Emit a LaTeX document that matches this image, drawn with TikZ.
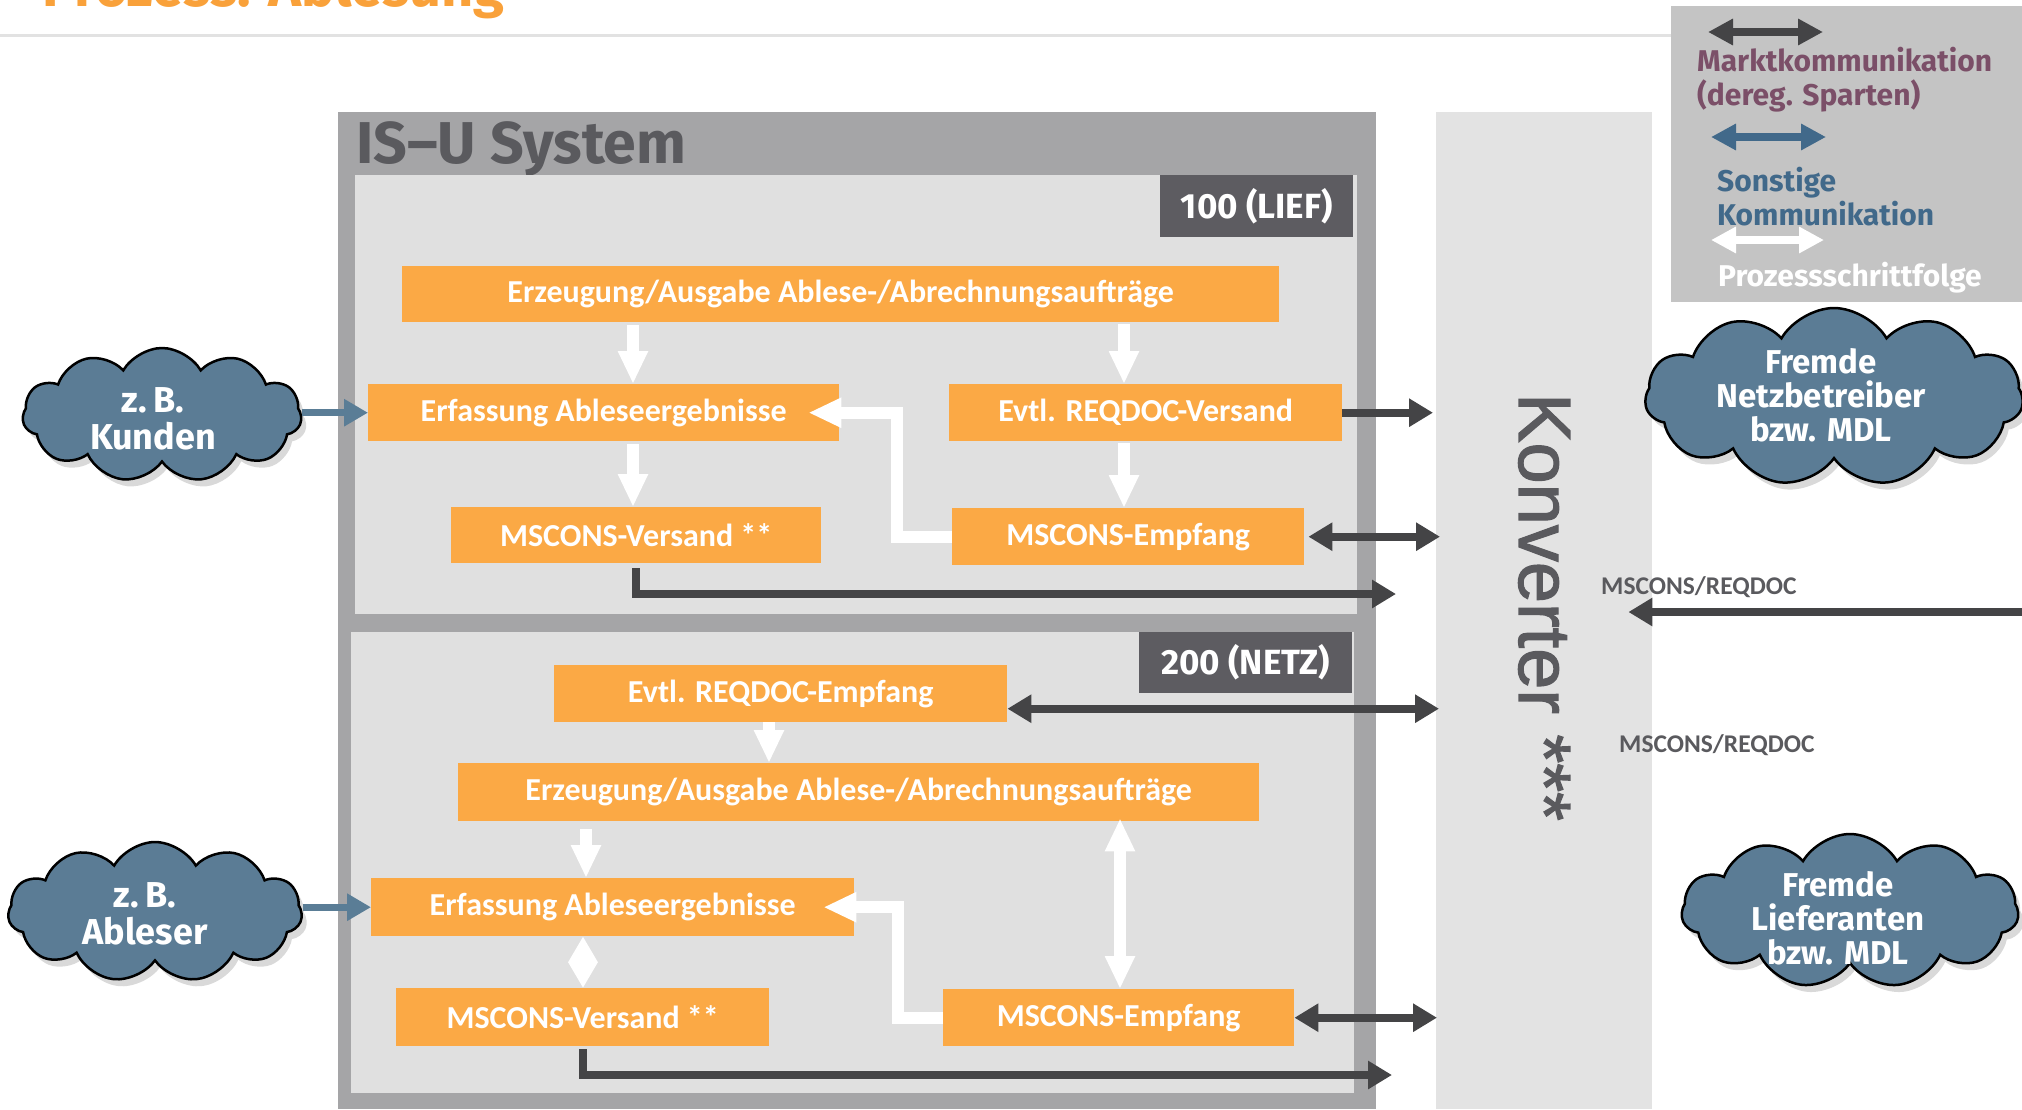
\documentclass[tikz,border=0pt]{standalone}
\usepackage{fontspec}
\setmainfont{Fira Sans}
\newfontfamily\carlito{Carlito}
\newfontfamily\libsans[AutoFakeBold=1.6]{Liberation Sans}
\usetikzlibrary{arrows.meta,shapes.symbols,shadows,calc}

\definecolor{orangebox}{HTML}{FBA945}
\definecolor{outergray}{HTML}{A5A5A7}
\definecolor{panelgray}{HTML}{E0E0E0}
\definecolor{konvgray}{HTML}{E3E3E3}
\definecolor{leggray}{HTML}{C4C4C4}
\definecolor{tagdark}{HTML}{5D5C61}
\definecolor{arrdark}{HTML}{444446}
\definecolor{cloudblue}{HTML}{5B7C95}
\definecolor{bluearr}{HTML}{5A7D96}
\definecolor{textgray}{HTML}{5A5A5E}
\definecolor{legmauve}{HTML}{7B4F68}
\definecolor{legblue}{HTML}{41698A}
\definecolor{titleorange}{HTML}{F9A13A}
\definecolor{rulegray}{HTML}{E2E2E2}

\begin{document}
\begin{tikzpicture}[x=1pt,y=-1pt,
  area/.style={inner sep=0pt, anchor=north west, draw=none},
  pbox/.style={fill=orangebox, text=white, font=\carlito\bfseries\fontsize{32}{36}\selectfont, inner sep=0pt, anchor=north west},
  tagbox/.style={fill=tagdark, text=white, font=\bfseries\fontsize{35}{40}\selectfont, inner sep=0pt, anchor=north west},
  cloudshape/.style={cloud, cloud puffs=11, cloud puff arc=120, cloud ignores aspect, draw=black, line width=2.5pt, fill=cloudblue, inner sep=0pt, drop shadow={shadow xshift=5pt, shadow yshift=-7pt, opacity=0.3}},
  cloudtext/.style={text=white, font=\bfseries\fontsize{36}{37}\selectfont, align=center, inner sep=0pt},
  cloudtextsmall/.style={text=white, font=\bfseries\fontsize{33}{34}\selectfont, align=center, inner sep=0pt},
  darr/.style={draw=arrdark, line width=8pt, -{Triangle[width=27pt,length=24pt]}},
  ddarr/.style={draw=arrdark, line width=8pt, {Triangle[width=27pt,length=24pt]}-{Triangle[width=27pt,length=24pt]}},
  barr/.style={draw=bluearr, line width=7pt, -{Triangle[width=26pt,length=24pt]}},
  warr/.style={draw=white, line width=12pt, -{Triangle[width=28pt,length=33pt]}},
  dwarr/.style={draw=white, line width=12pt, {Triangle[width=28pt,length=33pt]}-{Triangle[width=28pt,length=33pt]}},
  msl/.style={font=\carlito\bfseries\fontsize{25.5}{28}\selectfont, text=textgray, inner sep=0pt, anchor=west},
  legtext/.style={font=\bfseries\fontsize{30}{34}\selectfont, inner sep=0pt, anchor=west, align=left}
]
\useasboundingbox (0,0) rectangle (2022,1109);

% header
\begin{scope}
\clip (0,0) rectangle (2022,1109);
\node[anchor=base west, inner sep=0pt, text=titleorange, font=\bfseries\fontsize{56}{60}\selectfont] (title) at (42,6) {Prozess: Ablesung};
\end{scope}
\draw[rulegray, line width=3pt] (0,35) -- (1671,35);

% legend
\node[area, fill=leggray, minimum width=351, minimum height=296] (legend) at (1671,6) {};
\coordinate (l1a) at (1708,32); \coordinate (l1b) at (1823,32);
\coordinate (l2a) at (1711,137); \coordinate (l2b) at (1826,137);
\coordinate (l3a) at (1711,240); \coordinate (l3b) at (1824,240);
\draw[line width=8pt, draw=arrdark, {Triangle[width=25pt,length=25pt]}-{Triangle[width=25pt,length=25pt]}] (l1a) -- (l1b);
\draw[line width=8pt, draw=legblue, {Triangle[width=25pt,length=25pt]}-{Triangle[width=25pt,length=25pt]}] (l2a) -- (l2b);
\draw[line width=8pt, draw=white, {Triangle[width=25pt,length=25pt]}-{Triangle[width=25pt,length=25pt]}] (l3a) -- (l3b);
\node[legtext, text=legmauve] (lt1) at (1697,80) {Marktkommunikation\\(dereg. Sparten)};
\node[legtext, text=legblue] (lt2) at (1717,197) {Sonstige\\Kommunikation};
\node[legtext, text=white] (lt3) at (1718,278) {Prozessschrittfolge};

% IS-U system
\node[area, fill=outergray, minimum width=1038, minimum height=997] (isu) at (338,112) {};
\node[anchor=base west, inner sep=0pt, text=textgray, font=\bfseries\fontsize{59}{60}\selectfont] (isutitle) at (356,163) {IS–U System};
\node[area, fill=panelgray, minimum width=1002, minimum height=439] (p100) at (355,175) {};
\node[area, fill=panelgray, minimum width=1003, minimum height=461] (p200) at (351,632) {};
\node[tagbox, minimum width=193, minimum height=62] (t100) at (1160,175) {100 (LIEF)};
\node[tagbox, minimum width=213, minimum height=61] (t200) at (1139,632) {200 (NETZ)};

% Konverter
\node[area, fill=konvgray, minimum width=216, minimum height=997] (konv) at (1436,112) {};
\node[rotate=-90, anchor=base west, inner sep=0pt, text=textgray, font=\libsans\bfseries\fontsize{74}{74}\selectfont] (konvtext) at (1519,393) {Konverter ***};

% process boxes 100
\node[pbox, minimum width=877, minimum height=56] (A1) at (402,266) {Erzeugung/Ausgabe Ablese-/Abrechnungsaufträge};
\node[pbox, minimum width=471, minimum height=57] (A2) at (368,384) {Erfassung Ableseergebnisse};
\node[pbox, minimum width=393, minimum height=57] (A3) at (949,384) {Evtl. REQDOC-Versand};
\node[pbox, minimum width=370, minimum height=56] (A4) at (451,507) {MSCONS-Versand **};
\node[pbox, minimum width=352, minimum height=57] (A5) at (952,508) {MSCONS-Empfang};

% process boxes 200
\node[pbox, minimum width=453, minimum height=57] (B1) at (554,665) {Evtl. REQDOC-Empfang};
\node[pbox, minimum width=801, minimum height=58] (B2) at (458,763) {Erzeugung/Ausgabe Ablese-/Abrechnungsaufträge};
\node[pbox, minimum width=483, minimum height=58] (B3) at (371,878) {Erfassung Ableseergebnisse};
\node[pbox, minimum width=373, minimum height=58] (B4) at (396,988) {MSCONS-Versand **};
\node[pbox, minimum width=351, minimum height=57] (B5) at (943,989) {MSCONS-Empfang};

% column coordinates
\coordinate (cA) at (633,0);
\coordinate (cB) at (1124,0);
\coordinate (eA) at (897,0);
\coordinate (eB) at (898,0);
\coordinate (cB1) at (769,0);
\coordinate (cB2) at (586,0);
\coordinate (cB3) at (583,0);
\coordinate (cB25) at (1120,0);
\coordinate (cA4) at (636,0);
\coordinate (a4end) at (1396,594);
\coordinate (b4end) at (1392,1075);
\coordinate (rstart) at (2022,612);

% white process arrows
\draw[warr, shorten <=3pt] (A1.south -| cA) -- (A2.north -| cA);
\draw[warr, shorten <=2pt] (A1.south -| cB) -- (A3.north -| cB);
\draw[warr, shorten <=3pt] (A2.south -| cA) -- (A4.north -| cA);
\draw[warr, shorten <=2pt] (A3.south -| cB) -- (A5.north -| cB);
\draw[warr] (A5.west) -- (A5.west -| eA) -- (A2.east -| eA) -- ([xshift=-31pt]A2.east);

\draw[warr] (B1.south -| cB1) -- (B2.north -| cB1);
\draw[warr, shorten <=8pt] (B2.south -| cB2) -- (B3.north -| cB2);
\draw[draw=white, line width=12pt, {Triangle[width=28pt,length=26pt]}-{Triangle[width=28pt,length=26pt]}] (B3.south -| cB3) -- (B4.north -| cB3);
\draw[dwarr] ([yshift=3pt]B2.south -| cB25) -- (B5.north -| cB25);
\draw[warr] (B5.west) -- (B5.west -| eB) -- (B3.east -| eB) -- ([xshift=-31pt]B3.east);

% dark arrows
\draw[darr, shorten >=3pt] (A3.east) -- (A3.east -| konv.west);
\draw[ddarr, shorten <=4pt, shorten >=-4pt] (A5.east) -- (A5.east -| konv.west);
\draw[darr, shorten <=5pt] (A4.south -| cA4) |- (a4end);
\draw[ddarr, shorten >=-3pt] ([yshift=-15pt]B1.east) -- ([yshift=-15pt]B1.east -| konv.west);
\draw[ddarr, shorten >=-1pt] (B5.east) -- (B5.east -| konv.west);
\draw[darr, shorten <=3pt] (B4.south -| cB3) |- (b4end);
\draw[darr] (rstart) -- ([xshift=-24pt]rstart -| konv.east);

% labels
\node[msl] (m1) at (1601,587) {MSCONS/REQDOC};
\node[msl] (m2) at (1619,745) {MSCONS/REQDOC};

% clouds
\node[cloudshape, minimum width=279, minimum height=134] (kunden) at (162,415) {};
\node[cloudtext] (kundentext) at (153,419) {z.\,B.\\Kunden};
\node[cloudshape, minimum width=294, minimum height=140] (ableser) at (155,912) {};
\node[cloudtext] (ablesertext) at (145,914) {z.\,B.\\Ableser};
\node[cloudshape, minimum width=378, minimum height=178] (netz) at (1834,397) {};
\node[cloudtextsmall] (netztext) at (1821,395) {Fremde\\Netzbetreiber\\bzw. MDL};
\node[cloudshape, minimum width=337, minimum height=154] (lief) at (1850,911) {};
\node[cloudtextsmall] (lieftext) at (1838,918) {Fremde\\Lieferanten\\bzw. MDL};

% blue arrows
\draw[barr] (A2.west -| kunden.east) -- (A2.west);
\draw[barr] (B3.west -| ableser.east) -- (B3.west);
\end{tikzpicture}
\end{document}
